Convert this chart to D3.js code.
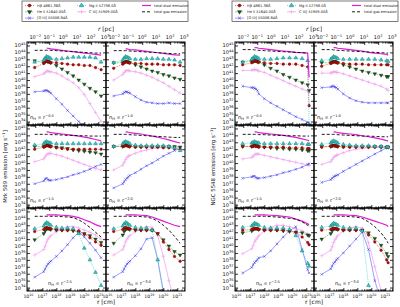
<!DOCTYPE html>
<html>
<head>
<meta charset="utf-8">
<script src="https://cdn.jsdelivr.net/npm/d3@7"></script>
<style>
body { margin: 0; background: #fff; }
svg { display: block; font-family: "DejaVu Sans", sans-serif; }
</style>
</head>
<body>
<div class="container"></div>
<script>
const width = 400;
const height = 307;

// radii of the models, log10(r / cm)
const radiiMrk = [16.45, 17.1, 17.2, 17.3, 17.4, 17.5, 17.6, 18.0, 18.4, 18.8, 19.2, 19.6, 20.0, 20.4, 20.8, 21.2];
const radiiNgc = [16.45, 17.1, 17.2, 17.3, 17.4, 17.5, 17.6, 18.0, 18.45, 18.9, 19.35, 19.8, 20.25, 20.7, 21.1, 21.2];
const slopes = ['-0.5', '-1.0', '-1.5', '-2.0', '-2.5', '-3.0'];

// log10 emission [erg/s], one row per panel (slope order)
const mrkDust = [
    [null, null, null, 44.6, 44.6, 44.55, 44.5, 44.4, 44.3, 44.2, 44.1, 44.0, 43.9, 43.8, 43.7, 43.6],
    [null, null, null, 44.5, 44.5, 44.45, 44.4, 44.35, 44.25, 44.15, 44.05, 43.95, 43.85, 43.75, 43.65, 43.6],
    [null, null, null, 44.5, 44.5, 44.45, 44.4, 44.3, 44.2, 44.1, 44.0, 43.9, 43.75, 43.6, 43.4, 43.2],
    [null, null, null, 44.5, 44.5, 44.45, 44.4, 44.3, 44.2, 44.05, 43.9, 43.75, 43.55, 43.35, 43.1, 42.9],
    [null, null, null, 44.5, 44.5, 44.5, 44.5, 44.5, 44.45, 44.4, 44.3, 44.1, 43.8, 43.5, 43.1, 42.8],
    [null, null, null, 44.5, 44.5, 44.5, 44.5, 44.5, 44.45, 44.4, 44.2, 43.9, 43.6, 43.3, 43.0, 42.8]
];
const mrkGas = [
    [44.3, 44.3, 44.3, 44.3, 44.3, 44.3, 44.3, 44.25, 44.2, 44.15, 44.1, 44.05, 44.0, 43.95, 43.9, 43.9],
    [44.25, 44.25, 44.25, 44.25, 44.25, 44.2, 44.2, 44.15, 44.1, 44.05, 44.0, 43.95, 43.9, 43.85, 43.8, 43.8],
    [44.15, 44.15, 44.15, 44.15, 44.15, 44.15, 44.1, 44.1, 44.05, 44.0, 44.0, 43.95, 43.95, 43.9, 43.9, 43.9],
    [44.15, 44.15, 44.15, 44.15, 44.15, 44.1, 44.1, 44.05, 44.0, 43.95, 43.9, 43.85, 43.8, 43.75, 43.7, 43.7],
    [44.3, 44.3, 44.3, 44.3, 44.3, 44.3, 44.3, 44.3, 44.25, 44.2, 44.1, 43.8, 43.3, 42.7, 42.0, 41.3],
    [44.3, 44.3, 44.3, 44.3, 44.3, 44.3, 44.3, 44.3, 44.25, 44.2, 44.0, 43.6, 43.0, 42.3, 41.4, 40.4]
];
const mrkMgII = [
    [42.6, 42.9, 43.2, 43.4, 43.3, 43.2, 43.1, 43.0, 43.1, 43.2, 43.3, 43.3, 43.3, 43.3, 43.2, 42.6],
    [42.5, 42.9, 43.2, 43.4, 43.3, 43.2, 43.1, 43.0, 43.0, 43.1, 43.1, 43.1, 43.0, 43.0, 42.9, 42.6],
    [42.6, 42.8, 43.0, 43.1, 43.0, 42.9, 42.9, 42.8, 42.8, 42.8, 42.8, 42.8, 42.8, 42.8, 42.8, 42.8],
    [42.4, 42.8, 43.0, 43.1, 43.0, 42.9, 42.8, 42.6, 42.5, 42.5, 42.5, 42.5, 42.5, 42.4, 42.2, 41.8],
    [42.5, 42.9, 43.2, 43.4, 43.3, 43.1, 43.0, 42.7, 42.6, 42.6, 42.5, 41.8, 39.7, 38.0, 36.2, 34.3],
    [42.5, 42.9, 43.2, 43.4, 43.3, 43.1, 43.0, 42.7, 42.6, 42.6, 42.3, 38.0, 33.0, null, null, null]
];
const mrkHb = [
    [41.8, 42.4, 42.6, 42.7, 42.6, 42.6, 42.5, 42.5, 42.4, 42.3, 42.2, 42.2, 42.1, 42.1, 41.8, 41.5],
    [41.7, 42.3, 42.5, 42.6, 42.6, 42.5, 42.5, 42.4, 42.4, 42.3, 42.3, 42.3, 42.2, 42.2, 42.2, 42.1],
    [42.0, 42.3, 42.4, 42.5, 42.5, 42.4, 42.4, 42.2, 42.1, 42.0, 42.0, 42.0, 42.0, 42.0, 42.0, 42.0],
    [42.4, 42.4, 42.5, 42.5, 42.5, 42.4, 42.4, 42.3, 42.3, 42.3, 42.3, 42.3, 42.2, 42.2, 42.1, 42.0],
    [42.1, 42.4, 42.6, 42.7, 42.6, 42.5, 42.5, 42.4, 42.3, 42.3, 42.3, 42.2, 41.7, 41.2, 40.6, 40.1],
    [42.1, 42.4, 42.6, 42.7, 42.6, 42.5, 42.5, 42.4, 42.3, 42.3, 42.3, 41.8, 40.6, 39.5, 38.5, 37.8]
];
const mrkHeII = [
    [42.8, 42.5, 42.7, 42.8, 42.7, 42.6, 42.5, 42.1, 41.6, 41.1, 40.6, 40.0, 39.4, 38.8, 38.3, 37.7],
    [42.5, 42.5, 42.6, 42.7, 42.7, 42.6, 42.5, 42.2, 41.9, 41.6, 41.3, 41.1, 40.8, 40.6, 40.3, 40.1],
    [42.4, 42.4, 42.5, 42.6, 42.6, 42.5, 42.4, 42.3, 42.2, 42.1, 41.9, 41.8, 41.7, 41.6, 41.5, 41.3],
    [42.4, 42.4, 42.5, 42.6, 42.6, 42.5, 42.4, 42.4, 42.4, 42.4, 42.4, 42.4, 42.4, 42.4, 42.4, 42.3],
    [40.9, 41.8, 42.2, 42.5, 42.5, 42.5, 42.4, 42.3, 42.3, 42.3, 42.2, 42.0, 41.8, 41.5, 41.0, 40.5],
    [40.4, 41.6, 42.1, 42.4, 42.5, 42.5, 42.4, 42.3, 42.3, 42.3, 42.3, 41.8, 40.9, 40.0, 39.2, 38.7]
];
const mrkCIII = [
    [40.5, 40.9, 41.1, 41.3, 41.3, 41.2, 41.2, 41.0, 40.6, 40.1, 39.6, 38.9, 37.9, 36.6, 35.3, 34.0],
    [40.0, 40.8, 41.1, 41.3, 41.4, 41.4, 41.3, 41.2, 41.0, 40.7, 40.4, 40.0, 39.6, 39.1, 38.6, 38.1],
    [40.2, 40.6, 40.9, 41.2, 41.3, 41.4, 41.4, 41.2, 41.0, 40.7, 40.4, 40.1, 39.8, 39.5, 39.2, 39.0],
    [39.0, 39.7, 40.1, 40.5, 40.8, 41.0, 41.1, 41.4, 41.7, 41.9, 42.1, 42.2, 42.3, 42.3, 42.3, 42.3],
    [38.7, 39.5, 40.0, 40.6, 41.0, 41.3, 41.5, 42.1, 42.5, 42.8, 42.8, 42.6, 42.3, 42.0, 41.6, 41.0],
    [38.7, 39.5, 40.0, 40.6, 41.0, 41.3, 41.5, 42.1, 42.5, 42.8, 42.7, 41.5, 38.5, 35.0, 32.0, null]
];
const mrkOIII = [
    [38.3, 38.4, 38.5, 38.5, 38.4, 38.3, 38.1, 37.3, 36.5, 35.6, 34.8, 34.0, 33.3, null, null, null],
    [37.7, 38.0, 38.2, 38.3, 38.3, 38.2, 38.1, 37.6, 37.1, 36.8, 36.7, 36.6, 36.6, 36.7, 36.6, 36.6],
    [37.0, 37.4, 37.7, 37.8, 37.6, 37.5, 37.5, 37.6, 37.8, 38.0, 38.3, 38.5, 38.8, 39.1, 39.5, 39.8],
    [36.4, 37.0, 37.3, 37.6, 37.8, 38.0, 38.2, 38.6, 39.1, 39.6, 40.0, 40.5, 41.0, 41.4, 41.8, 42.1],
    [35.5, 36.3, 36.7, 37.1, 37.4, 37.6, 37.8, 38.5, 39.3, 40.2, 41.2, 42.0, 41.3, 40.4, 39.4, 38.3],
    [35.5, 36.3, 36.7, 37.1, 37.4, 37.6, 37.8, 38.6, 39.6, 41.0, 41.2, 38.0, 33.5, null, null, null]
];

const ngcDust = [
    [null, null, null, 44.7, 44.7, 44.65, 44.6, 44.5, 44.4, 44.3, 44.2, 44.1, 44.0, 43.95, 43.9, 40.4],
    [null, null, null, 44.7, 44.7, 44.65, 44.6, 44.5, 44.4, 44.3, 44.2, 44.0, 43.9, 43.8, 43.7, 43.6],
    [null, null, null, 44.5, 44.5, 44.45, 44.4, 44.3, 44.2, 44.1, 44.0, 43.85, 43.7, 43.5, 43.3, 43.2],
    [null, null, null, 44.5, 44.5, 44.45, 44.4, 44.3, 44.2, 44.1, 43.95, 43.8, 43.65, 43.45, 43.25, 43.2],
    [null, null, null, 44.5, 44.5, 44.5, 44.5, 44.5, 44.45, 44.4, 44.3, 44.2, 43.9, 43.6, 43.2, 43.1],
    [null, null, null, 44.5, 44.5, 44.5, 44.5, 44.5, 44.45, 44.4, 44.2, 43.9, 43.6, 43.3, 43.0, 42.8]
];
const ngcGas = [
    [44.4, 44.4, 44.4, 44.35, 44.35, 44.3, 44.3, 44.25, 44.2, 44.15, 44.1, 44.05, 44.0, 43.95, 43.9, null],
    [44.4, 44.4, 44.4, 44.35, 44.35, 44.3, 44.3, 44.25, 44.2, 44.15, 44.1, 44.05, 44.0, 43.95, 43.9, 43.9],
    [44.15, 44.15, 44.15, 44.15, 44.15, 44.15, 44.1, 44.1, 44.05, 44.0, 44.0, 43.95, 43.95, 43.9, 43.9, 43.9],
    [44.15, 44.15, 44.15, 44.15, 44.15, 44.1, 44.1, 44.05, 44.0, 43.95, 43.9, 43.9, 43.85, 43.8, 43.8, 43.8],
    [44.3, 44.3, 44.3, 44.3, 44.3, 44.3, 44.3, 44.3, 44.25, 44.2, 44.1, 44.0, 43.9, 43.5, 43.0, 42.8],
    [44.3, 44.3, 44.3, 44.3, 44.3, 44.3, 44.3, 44.3, 44.25, 44.2, 44.0, 43.5, 42.8, 41.9, 40.8, 40.4]
];
const ngcMgII = [
    [42.6, 43.0, 43.2, 43.4, 43.3, 43.2, 43.1, 43.0, 43.0, 43.1, 43.2, 43.2, 43.2, 43.1, 42.8, 33.5],
    [42.8, 43.0, 43.2, 43.4, 43.3, 43.2, 43.1, 43.0, 43.0, 43.0, 43.0, 43.0, 43.0, 42.9, 42.8, 42.7],
    [42.8, 42.9, 43.0, 43.1, 43.0, 42.9, 42.9, 42.8, 42.8, 42.8, 42.8, 42.8, 42.8, 42.8, 42.7, 42.7],
    [42.7, 42.9, 43.1, 43.2, 43.1, 43.0, 42.9, 42.7, 42.6, 42.5, 42.5, 42.5, 42.4, 42.4, 42.3, 42.3],
    [42.7, 42.9, 43.1, 43.3, 43.2, 43.1, 43.0, 42.7, 42.6, 42.6, 42.6, 42.4, 41.5, 39.3, 37.5, 37.1],
    [42.7, 42.9, 43.1, 43.3, 43.2, 43.1, 43.0, 42.7, 42.6, 42.6, 42.2, 34.3, 32.0, null, null, null]
];
const ngcHb = [
    [42.2, 42.5, 42.6, 42.7, 42.7, 42.6, 42.6, 42.5, 42.4, 42.4, 42.3, 42.3, 42.3, 42.1, 41.9, 36.3],
    [42.0, 42.4, 42.5, 42.6, 42.6, 42.5, 42.5, 42.4, 42.3, 42.3, 42.3, 42.2, 42.2, 42.2, 42.2, 42.2],
    [42.4, 42.4, 42.4, 42.5, 42.4, 42.4, 42.3, 42.3, 42.3, 42.3, 42.3, 42.2, 42.2, 42.2, 42.1, 42.1],
    [42.3, 42.4, 42.5, 42.5, 42.5, 42.4, 42.4, 42.3, 42.3, 42.3, 42.3, 42.3, 42.3, 42.3, 42.3, 42.3],
    [42.3, 42.4, 42.5, 42.6, 42.5, 42.5, 42.4, 42.3, 42.3, 42.3, 42.3, 42.2, 42.0, 41.3, 40.5, 40.2],
    [42.3, 42.4, 42.5, 42.6, 42.5, 42.5, 42.4, 42.3, 42.3, 42.3, 42.2, 41.6, 40.6, 39.4, 38.0, 37.6]
];
const ngcHeII = [
    [42.6, 42.7, 42.8, 42.8, 42.8, 42.7, 42.6, 42.2, 41.7, 41.3, 40.8, 40.4, 40.0, 39.6, 39.3, 38.5],
    [42.5, 42.5, 42.6, 42.7, 42.7, 42.6, 42.5, 42.2, 41.9, 41.6, 41.3, 41.1, 40.9, 40.7, 40.5, 40.5],
    [42.4, 42.4, 42.5, 42.6, 42.5, 42.5, 42.4, 42.3, 42.2, 42.1, 42.1, 42.0, 42.0, 41.9, 41.8, 41.8],
    [42.4, 42.4, 42.5, 42.6, 42.5, 42.5, 42.4, 42.4, 42.4, 42.4, 42.4, 42.4, 42.4, 42.4, 42.3, 42.3],
    [41.9, 42.2, 42.4, 42.5, 42.5, 42.5, 42.4, 42.3, 42.3, 42.3, 42.2, 42.1, 42.0, 41.9, 41.6, 41.5],
    [41.0, 41.8, 42.2, 42.5, 42.5, 42.5, 42.4, 42.3, 42.3, 42.3, 42.3, 41.9, 41.1, 40.1, 38.9, 38.5]
];
const ngcCIII = [
    [41.4, 41.4, 41.5, 41.5, 41.5, 41.4, 41.3, 41.1, 40.7, 40.3, 39.9, 39.5, 39.1, 38.7, 38.4, 38.2],
    [41.0, 41.0, 41.1, 41.2, 41.2, 41.1, 41.1, 40.9, 40.6, 40.3, 40.0, 39.7, 39.4, 39.1, 38.7, 38.5],
    [40.6, 40.8, 41.0, 41.2, 41.3, 41.3, 41.3, 41.1, 40.9, 40.7, 40.5, 40.3, 40.1, 39.9, 39.7, 39.7],
    [39.8, 40.2, 40.5, 40.8, 41.0, 41.1, 41.2, 41.5, 41.8, 42.0, 42.1, 42.2, 42.3, 42.3, 42.3, 42.3],
    [38.9, 39.6, 40.1, 40.6, 40.9, 41.2, 41.5, 42.2, 42.7, 43.0, 43.0, 42.8, 42.5, 42.2, 41.8, 41.6],
    [38.6, 39.4, 39.9, 40.5, 40.9, 41.2, 41.5, 42.2, 42.6, 42.8, 42.6, 40.5, 37.0, 33.5, null, null]
];
const ngcOIII = [
    [39.1, 38.9, 38.9, 38.8, 38.7, 38.5, 38.0, 37.3, 36.7, 36.2, 35.7, 35.2, 34.7, 34.3, 33.9, 33.8],
    [38.9, 39.0, 39.1, 39.1, 39.0, 38.9, 38.7, 38.0, 37.4, 37.0, 36.8, 36.7, 36.7, 36.7, 36.7, 36.7],
    [37.8, 38.0, 38.1, 38.1, 37.9, 37.8, 37.8, 37.9, 38.1, 38.3, 38.6, 38.8, 39.1, 39.4, 39.8, 39.9],
    [37.2, 37.6, 37.8, 38.0, 38.1, 38.2, 38.3, 38.8, 39.3, 39.8, 40.3, 40.8, 41.3, 41.8, 42.2, 42.3],
    [36.1, 36.9, 37.3, 37.6, 37.8, 38.0, 38.3, 38.5, 39.3, 40.3, 41.3, 42.2, 42.8, 39.5, 36.6, 36.1],
    [35.9, 36.7, 37.1, 37.5, 37.7, 38.0, 38.2, 39.0, 40.0, 41.0, 42.0, 39.5, 35.0, 32.0, null, null]
];

const legendLabels = [
    ['H\u03B2 4861.36\u00C5', 'Mg II \u03BB2798.0\u00C5', 'total dust emission'],
    ['He II \u03BB1640.00\u00C5', 'C III] \u03BB1909.00\u00C5', 'total gas emission'],
    ['[O III] \u03BB5006.84\u00C5']
];

const panelW = 79;
const panelH = 83;
const top0 = 42;
const pc = 3.086e18;

const figures = [
    { name: 'Mrk 509', left: 27, legendX: 22, radii: radiiMrk,
      dust: mrkDust, gas: mrkGas, mg: mrkMgII, hb: mrkHb, he: mrkHeII, c3: mrkCIII, o3: mrkOIII },
    { name: 'NGC 5548', left: 235, legendX: 232, radii: radiiNgc,
      dust: ngcDust, gas: ngcGas, mg: ngcMgII, hb: ngcHb, he: ngcHeII, c3: ngcCIII, o3: ngcOIII }
];

// drawing order: back to front
const styles = [
    { key: 'c3', line: '#f2a6ee', width: 0.8, dash: null, sym: d3.symbolPlus, size: 6, fill: 'none', stroke: '#ee99ea' },
    { key: 'o3', line: '#5a5aff', width: 0.6, dash: null, sym: d3.symbolTimes, size: 5, fill: 'none', stroke: '#2222dd' },
    { key: 'he', line: '#2c9a2c', width: 0.5, dash: '2,1', sym: d3.symbolTriangle, rot: 180, size: 5.5, fill: '#1f4f1f', stroke: '#143814' },
    { key: 'hb', line: '#e01010', width: 0.6, dash: '1,1', sym: d3.symbolCircle, size: 5, fill: '#b80c0c', stroke: '#6a0000' },
    { key: 'mg', line: '#20c8c8', width: 0.6, dash: '1,1', sym: d3.symbolTriangle, size: 6, fill: '#30d0c8', stroke: '#127070' },
    { key: 'dust', line: '#e21cd2', width: 1.2, dash: null },
    { key: 'gas', line: '#000', width: 0.9, dash: '3,2' }
];

const x = d3.scaleLog().domain([10 ** 15.9, 10 ** 21.55]).range([0, panelW]);
const y = d3.scaleLog().domain([10 ** 33.5, 10 ** 45.5]).range([panelH, 0]);

const inDomain = v => v > x.domain()[0] && v < x.domain()[1];
const xMajor = d3.range(16, 22).map(k => 10 ** k);
const xMinor = [];
d3.range(15, 22).forEach(k => d3.range(2, 10).forEach(m => { if (inDomain(m * 10 ** k)) xMinor.push(m * 10 ** k); }));
const pcMajor = d3.range(-2, 4).map(k => 10 ** k * pc);
const pcMinor = [];
d3.range(-3, 4).forEach(k => d3.range(2, 10).forEach(m => { if (inDomain(m * 10 ** k * pc)) pcMinor.push(m * 10 ** k * pc); }));
const yMajor = d3.range(34, 46).map(k => 10 ** k);

const svg = d3.select('.container').append('svg')
    .attr('width', width)
    .attr('height', height);

svg.append('defs').append('clipPath').attr('id', 'clip')
    .append('rect').attr('width', panelW).attr('height', panelH);

function powLabel(sel, base, exp, fs) {
    sel.append('tspan').text(base).attr('font-size', fs);
    sel.append('tspan').text(exp).attr('font-size', fs * 0.72).attr('dy', -fs * 0.42);
}

function drawLegend(fig) {
    const g = svg.append('g').attr('transform', `translate(${fig.legendX},1)`);
    g.append('rect').attr('width', 166).attr('height', 20.5)
        .attr('fill', '#fff').attr('stroke', '#222').attr('stroke-width', 0.6);
    const items = [
        [['hb', 0, 0], ['mg', 1, 0], ['dust', 2, 0]],
        [['he', 0, 1], ['c3', 1, 1], ['gas', 2, 1]],
        [['o3', 0, 2]]
    ];
    const colX = [3, 55, 120];
    items.forEach((row, ri) => row.forEach(([key, ci]) => {
        const st = styles.find(s => s.key === key);
        const yy = 4.5 + ri * 6.3;
        const x0 = colX[ci];
        g.append('line').attr('x1', x0).attr('x2', x0 + 9).attr('y1', yy).attr('y2', yy)
            .attr('stroke', st.line).attr('stroke-width', st.width)
            .attr('stroke-dasharray', st.dash);
        if (st.sym) {
            g.append('path').attr('d', d3.symbol(st.sym, st.size * 1.3)())
                .attr('transform', `translate(${x0 + 4.5},${yy}) rotate(${st.rot || 0})`)
                .attr('fill', st.fill).attr('stroke', st.stroke).attr('stroke-width', 0.5);
        }
        g.append('text').attr('x', x0 + 12).attr('y', yy + 1.2)
            .attr('font-size', 3.6).attr('fill', '#222')
            .text(legendLabels[ri][ci]);
    }));
}

function drawPanel(fig, row, col) {
    const p = row * 2 + col;
    const px = fig.left + col * panelW;
    const py = top0 + row * panelH;
    const g = svg.append('g').attr('transform', `translate(${px},${py})`);
    const plot = g.append('g').attr('clip-path', 'url(#clip)');

    styles.forEach(st => {
        const vals = fig[st.key][p];
        const pts = fig.radii.map((r, i) => ({ r, v: vals[i] }));
        const line = d3.line()
            .defined(d => d.v != null)
            .x(d => x(10 ** d.r))
            .y(d => y(10 ** d.v));
        plot.append('path').datum(pts)
            .attr('d', line)
            .attr('fill', 'none')
            .attr('stroke', st.line)
            .attr('stroke-width', st.width)
            .attr('stroke-dasharray', st.dash);
        if (st.sym) {
            plot.selectAll(null)
                .data(pts.filter(d => d.v != null))
                .enter()
                .append('path')
                .attr('d', d3.symbol(st.sym, st.size)())
                .attr('transform', d => `translate(${x(10 ** d.r)},${y(10 ** d.v)}) rotate(${st.rot || 0})`)
                .attr('fill', st.fill)
                .attr('stroke', st.stroke)
                .attr('stroke-width', 0.45);
        }
    });

    // inward ticks on all sides
    const clean = s => s.select('.domain').remove();
    g.append('g').attr('transform', `translate(0,${panelH})`)
        .call(d3.axisBottom(x).tickValues(xMajor).tickSize(-3).tickSizeOuter(0).tickFormat('')).call(clean);
    g.append('g').attr('transform', `translate(0,${panelH})`)
        .call(d3.axisBottom(x).tickValues(xMinor).tickSize(-1.6).tickSizeOuter(0).tickFormat('')).call(clean);
    g.append('g')
        .call(d3.axisTop(x).tickValues(pcMajor).tickSize(-3).tickSizeOuter(0).tickFormat('')).call(clean);
    g.append('g')
        .call(d3.axisTop(x).tickValues(pcMinor).tickSize(-1.6).tickSizeOuter(0).tickFormat('')).call(clean);
    g.append('g')
        .call(d3.axisLeft(y).tickValues(yMajor).tickSize(-3).tickSizeOuter(0).tickFormat('')).call(clean);
    g.append('g').attr('transform', `translate(${panelW},0)`)
        .call(d3.axisRight(y).tickValues(yMajor).tickSize(-3).tickSizeOuter(0).tickFormat('')).call(clean);
    g.selectAll('.tick line').attr('stroke', '#000').attr('stroke-width', 0.8);

    g.append('rect').attr('width', panelW).attr('height', panelH)
        .attr('fill', 'none').attr('stroke', '#000').attr('stroke-width', 1);

    // tick labels
    if (col === 0) {
        yMajor.forEach(v => {
            const t = g.append('text').attr('x', -1.5).attr('y', y(v) + 2)
                .attr('text-anchor', 'end').attr('fill', '#111');
            powLabel(t, '10', String(Math.round(Math.log10(v))), 5);
        });
    }
    if (row === 0) {
        pcMajor.forEach((v, i) => {
            const t = g.append('text').attr('x', x(v)).attr('y', -3)
                .attr('text-anchor', 'middle').attr('fill', '#111');
            powLabel(t, '10', String(i - 2).replace('-', '\u2212'), 5);
        });
    }
    if (row === 2) {
        xMajor.forEach(v => {
            const t = g.append('text').attr('x', x(v)).attr('y', panelH + 7)
                .attr('text-anchor', 'middle').attr('fill', '#111');
            powLabel(t, '10', String(Math.round(Math.log10(v))), 4.6);
        });
    }

    // density law annotation
    const ann = g.append('text').attr('fill', '#111').attr('font-size', 5.2);
    if (row < 2) ann.attr('x', 3).attr('y', panelH - 6);
    else ann.attr('x', 21).attr('y', panelH - 6);
    ann.append('tspan').text('n');
    ann.append('tspan').text('H').attr('font-size', 3.6).attr('dy', 1.2);
    ann.append('tspan').text(' \u221D r').attr('dy', -1.2);
    ann.append('tspan').text(slopes[p].replace('-', '\u2212')).attr('font-size', 3.6).attr('dy', -2.2);
}

figures.forEach(fig => {
    drawLegend(fig);
    for (let row = 0; row < 3; row++) {
        for (let col = 0; col < 2; col++) drawPanel(fig, row, col);
    }
    const cx = fig.left + panelW;
    const tp = svg.append('text').attr('x', cx).attr('y', 31)
        .attr('text-anchor', 'middle').attr('font-size', 6).attr('fill', '#111');
    tp.append('tspan').text('r').attr('font-style', 'italic');
    tp.append('tspan').text(' [pc]');
    svg.append('text').attr('x', cx).attr('y', 304)
        .attr('text-anchor', 'middle').attr('font-size', 6).attr('fill', '#111')
        .text('r [cm]');
    const yl = svg.append('text')
        .attr('transform', `translate(${fig.left - 20},${top0 + panelH * 1.5}) rotate(-90)`)
        .attr('text-anchor', 'middle').attr('font-size', 5.4).attr('fill', '#111');
    yl.append('tspan').text(fig.name + ' emission [erg s');
    yl.append('tspan').text('\u22121').attr('font-size', 3.8).attr('dy', -2);
    yl.append('tspan').text(']').attr('dy', 2);
});
</script>
</body>
</html>
